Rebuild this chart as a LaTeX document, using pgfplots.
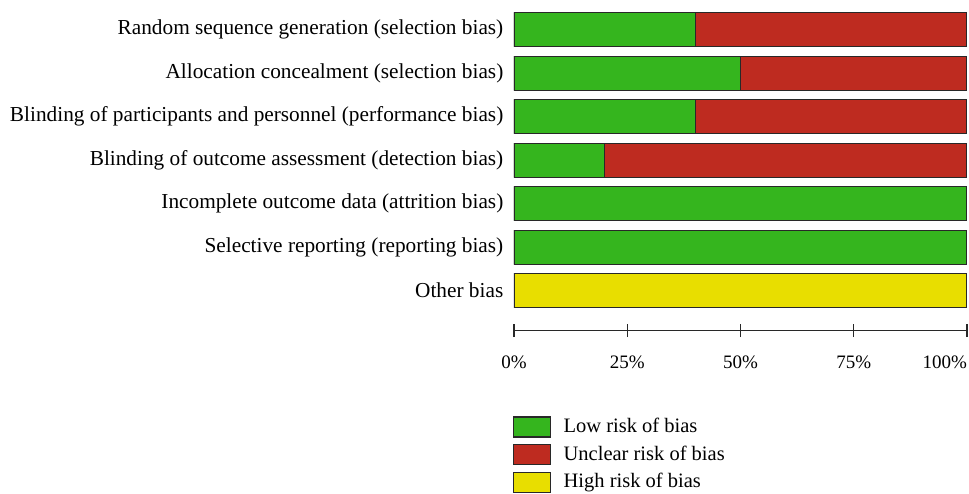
\documentclass[border=0pt]{standalone}
\usepackage{fontspec}
\setmainfont{Liberation Serif}
\usepackage{pgfplots}
\pgfplotsset{compat=1.18}
\definecolor{lowc}{RGB}{53,181,30}
\definecolor{uncc}{RGB}{190,43,32}
\definecolor{highc}{RGB}{232,222,0}
\definecolor{edgec}{RGB}{40,40,40}
\begin{document}
\fontsize{20}{24}\selectfont
\begin{tikzpicture}
\begin{axis}[
  xbar stacked,
  scale only axis,
  x=4.53pt, y=43.5pt,
  xmin=0, xmax=100,
  ymin=-0.92, ymax=6.55,
  bar width=34pt,
  axis x line*=bottom,
  axis y line*=left,
  y axis line style={draw=none},
  x axis line style={-, line width=1.2pt, color=edgec},
  ytick={0,1,2,3,4,5,6},
  yticklabels={Other bias,
    Selective reporting (reporting bias),
    Incomplete outcome data (attrition bias),
    Blinding of outcome assessment (detection bias),
    Blinding of participants and personnel (performance bias),
    Allocation concealment (selection bias),
    Random sequence generation (selection bias)},
  ytick style={draw=none},
  yticklabel style={font=\fontsize{21.3}{25}\selectfont, anchor=east, inner sep=0pt, xshift=-4pt},
  xtick={0,25,50,75,100},
  xticklabels={0\%,25\%,50\%,75\%,\makebox[0pt][r]{100\%}},
  xticklabel style={font=\fontsize{19}{23}\selectfont, yshift=-12pt},
  tick align=center,
  major tick length=13pt,
  xtick style={line width=1.2pt, color=edgec},
  every axis plot/.append style={draw=edgec, line width=1.1pt},
  legend style={at={(-0.009,-0.257)}, anchor=north west, draw=none, fill=none,
    font=\fontsize{20.5}{24}\selectfont, row sep=6.5pt,
    nodes={inner ysep=1pt, inner xsep=0pt}},
  legend cell align=left,
  legend image code/.code={\path[draw=none,fill=none] (0pt,0pt) -- (50pt,0pt);\draw[#1] (0pt,-10pt) rectangle (37pt,10pt);},
]
\addplot[fill=lowc] coordinates {(0,0) (100,1) (100,2) (20,3) (40,4) (50,5) (40,6)};
\addplot[fill=uncc] coordinates {(0,0) (0,1) (0,2) (80,3) (60,4) (50,5) (60,6)};
\addplot[fill=highc] coordinates {(100,0) (0,1) (0,2) (0,3) (0,4) (0,5) (0,6)};
\legend{Low risk of bias, Unclear risk of bias, High risk of bias}
\coordinate (o) at (rel axis cs:0,0);
\end{axis}
\pgfresetboundingbox
\path[use as bounding box] ([shift={(-514pt,330.7pt)}]o) rectangle ([shift={(455pt,-162.3pt)}]o);
\end{tikzpicture}
\end{document}
